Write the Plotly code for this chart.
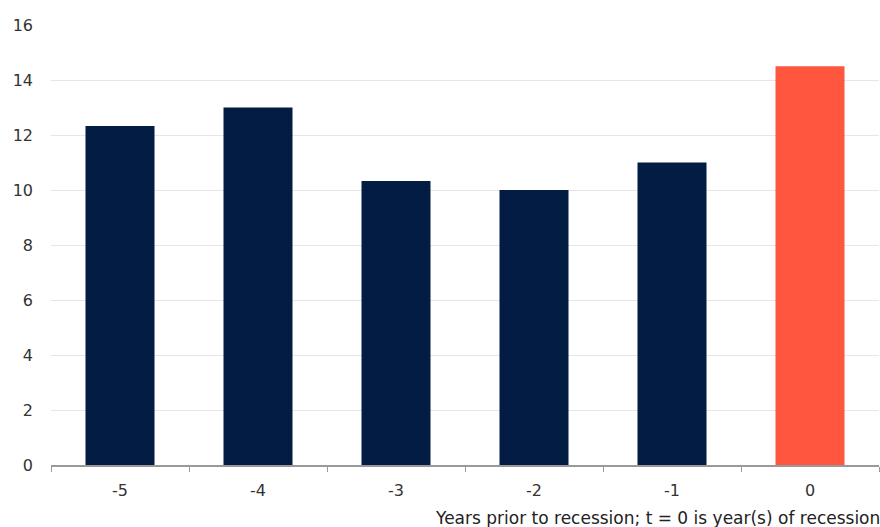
import plotly.graph_objects as go

categories = ["-5", "-4", "-3", "-2", "-1", "0"]
values = [12.33, 13.0, 10.33, 10.0, 11.0, 14.5]
bar_colors = ["#021c43", "#021c43", "#021c43", "#021c43", "#021c43", "#ff5640"]
y_ticks = [0, 2, 4, 6, 8, 10, 12, 14, 16]
x_title = "Years prior to recession; t = 0 is year(s) of recession"

fig = go.Figure()
fig.add_trace(go.Bar(x=categories, y=values, marker=dict(color=bar_colors, line=dict(width=0)), width=0.5))

font = "DejaVu Sans, sans-serif"
fig.update_layout(
    width=880, height=527,
    margin=dict(l=51, r=1, t=25, b=62),
    paper_bgcolor="white", plot_bgcolor="white",
    showlegend=False,
    font=dict(family=font, size=16, color="#333333"),
    bargap=0.5,
)
fig.update_xaxes(
    type="category", tickson="boundaries", ticks="outside", ticklen=5, tickcolor="#999999",
    showline=True, linecolor="#999999", linewidth=1.5, showgrid=False, automargin=False,
    tickfont=dict(size=16, color="#333333"), ticklabelstandoff=10,
)
fig.update_yaxes(
    range=[0, 16], tickvals=y_ticks, showgrid=True, gridcolor="#e6e6e6", gridwidth=1,
    zeroline=False, showline=False, ticks="", ticklabelstandoff=17, automargin=False,
    tickfont=dict(size=16, color="#333333"),
)
fig.add_annotation(
    text=x_title, xref="paper", yref="paper", x=1.0, y=0, xanchor="right", yanchor="bottom",
    yshift=-65, xshift=3, showarrow=False, font=dict(size=17, color="#222222"),
)
fig.write_html("out.html", config={"displayModeBar": False},
               post_script="document.body.style.margin='0';document.body.style.overflow='hidden';")
